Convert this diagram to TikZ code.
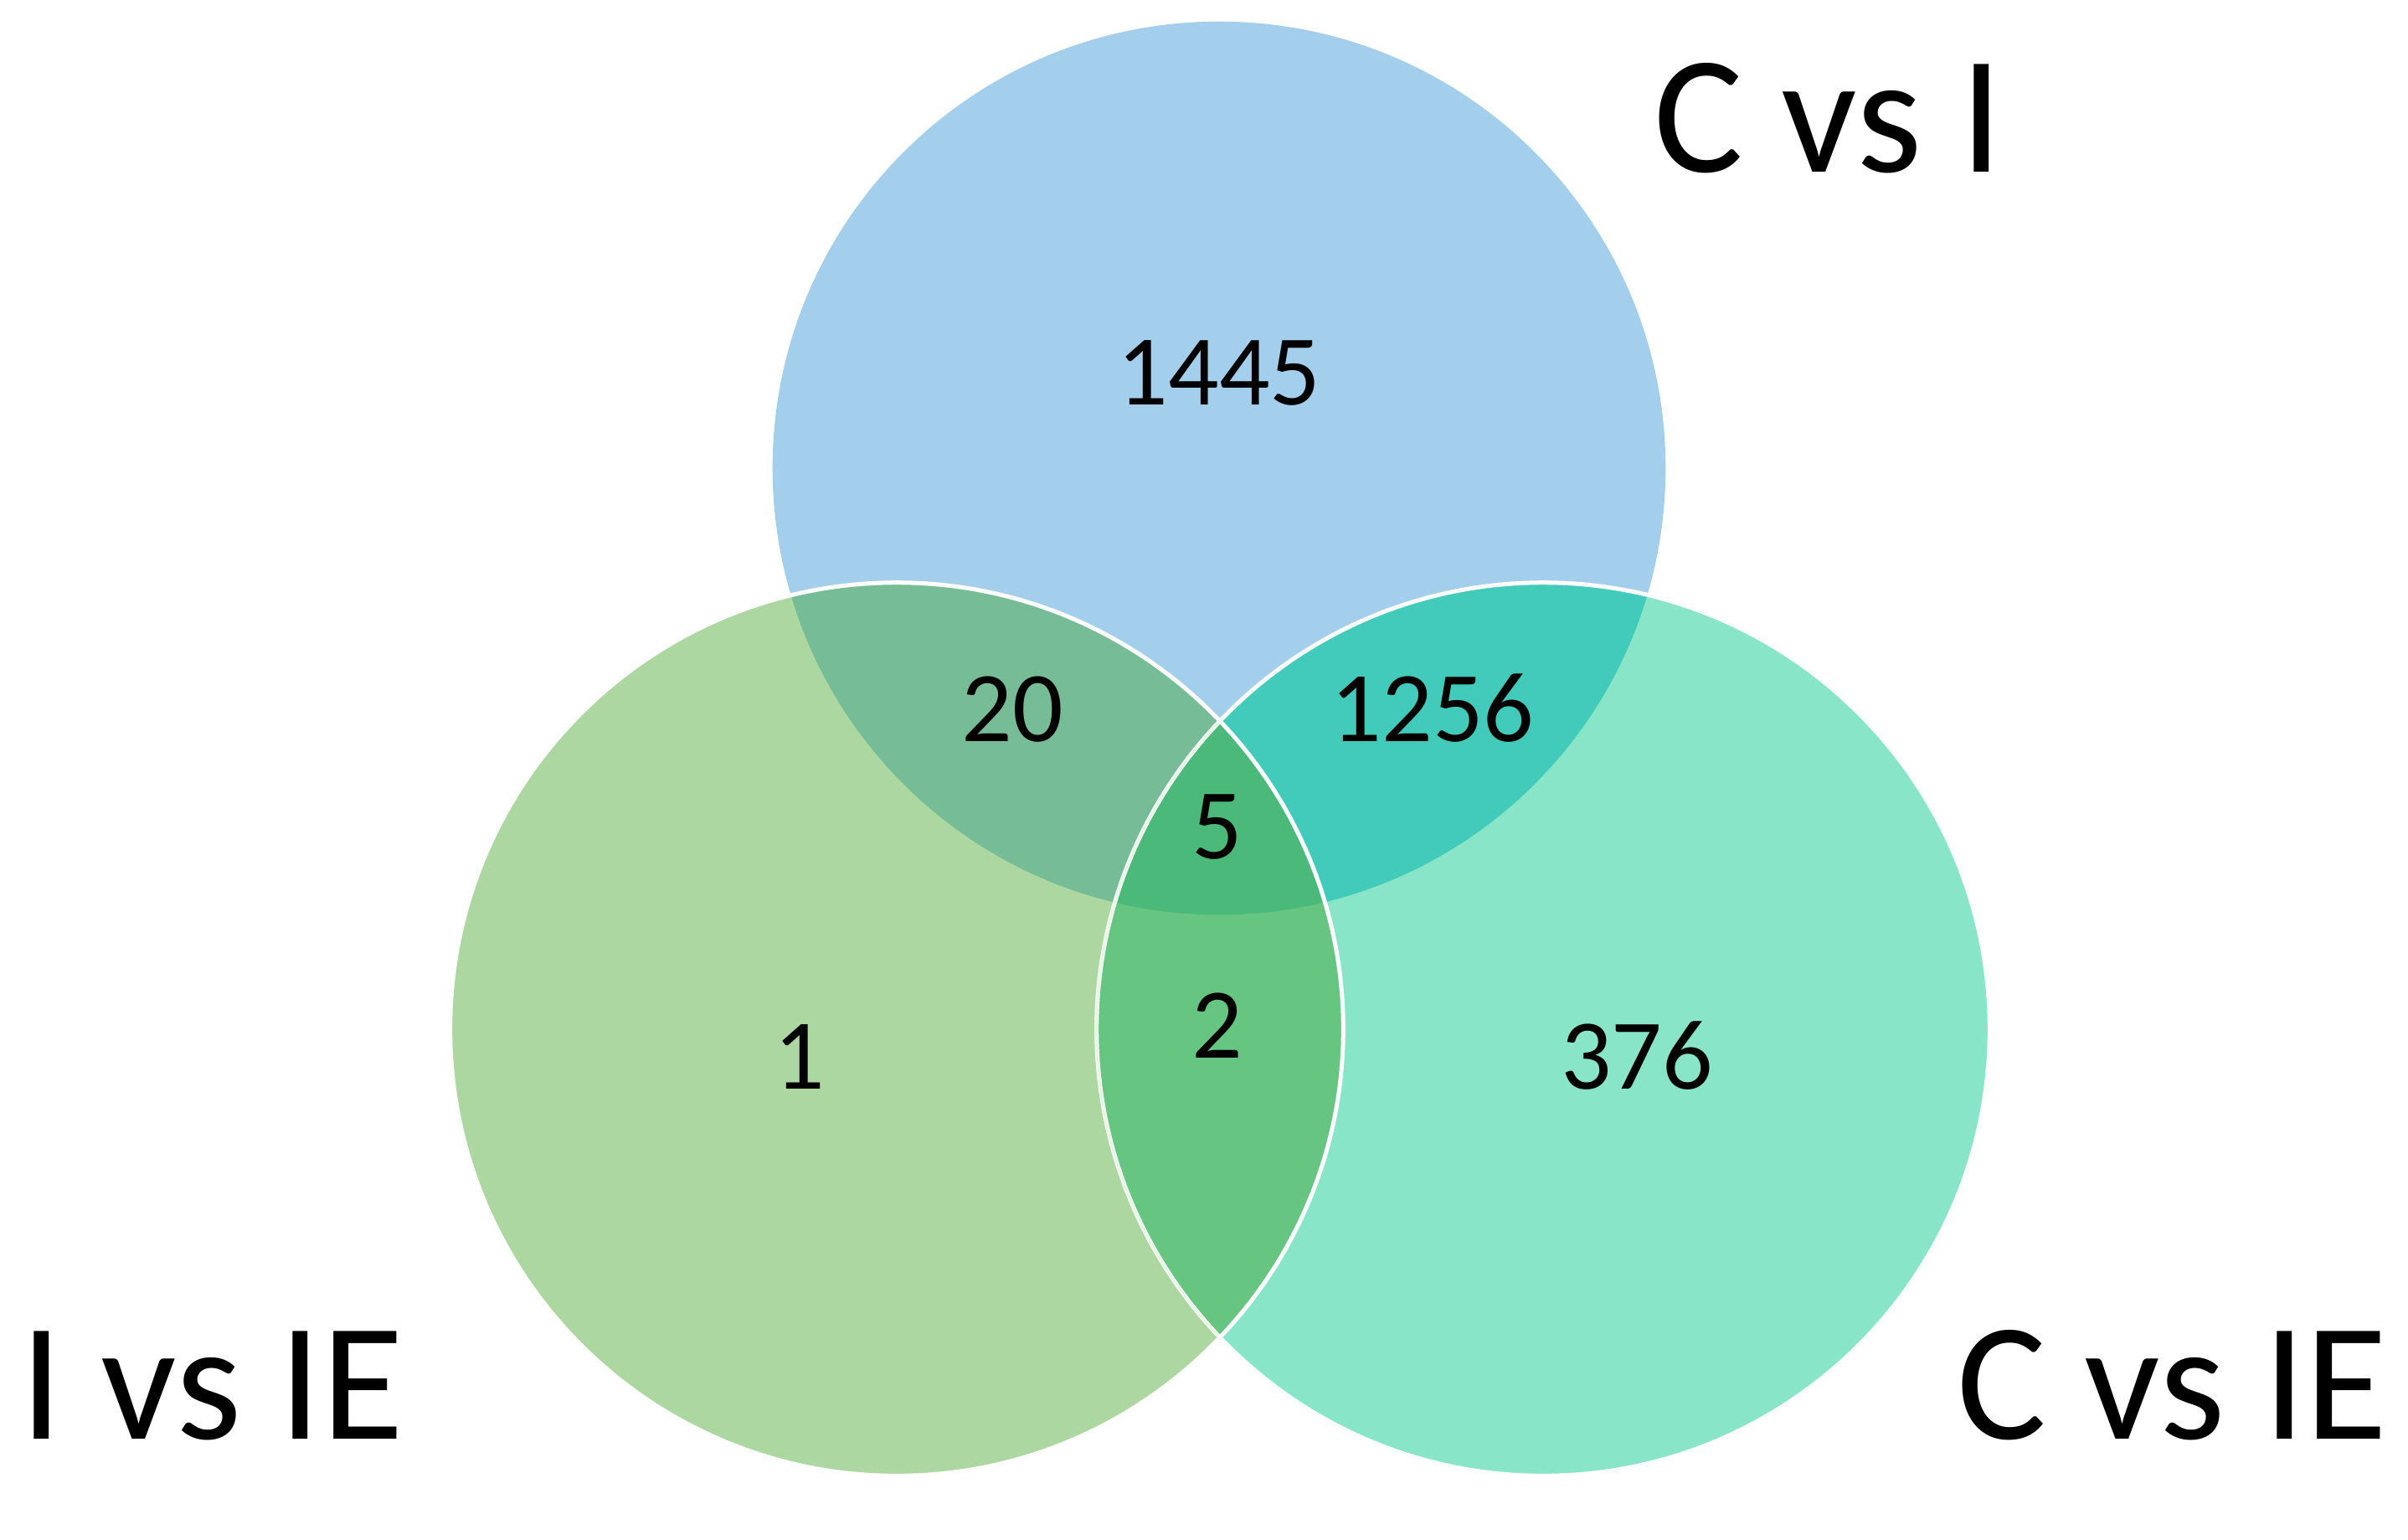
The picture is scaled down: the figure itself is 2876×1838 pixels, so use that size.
\documentclass[tikz,border=0pt]{standalone}
\usepackage{fontspec}
\setmainfont{Carlito}
\definecolor{cT}{HTML}{A3CEEC}
\definecolor{cL}{HTML}{ADD7A1}
\definecolor{cR}{HTML}{88E5C7}
\definecolor{cTL}{HTML}{76BD97}
\definecolor{cTR}{HTML}{42CBBA}
\definecolor{cLR}{HTML}{66C580}
\definecolor{cTLR}{HTML}{4BB97A}
\tikzset{
  numlabel/.style={anchor=base, inner sep=0pt, font=\fontsize{34}{40}\selectfont},
  setlabel/.style={anchor=base west, inner sep=0pt, font=\fontsize{57}{68}\selectfont},
  rim/.style={draw=white, line width=0.05cm},
}
\begin{document}
\begin{tikzpicture}[x=0.01cm,y=-0.01cm]
\useasboundingbox (0,0) rectangle (2876,1838);
\coordinate (T) at (1456,559);
\coordinate (L) at (1071,1229);
\coordinate (R) at (1843,1229);
\def\rad{5.33cm}
% single sets
\fill[cT] (T) circle[radius=\rad];
\fill[cR] (R) circle[radius=\rad];
\fill[cL] (L) circle[radius=\rad];
% pairwise overlaps
\begin{scope}
  \clip (T) circle[radius=\rad];
  \fill[cTL] (L) circle[radius=\rad];
  \fill[cTR] (R) circle[radius=\rad];
\end{scope}
\begin{scope}
  \clip (L) circle[radius=\rad];
  \fill[cLR] (R) circle[radius=\rad];
\end{scope}
% triple overlap
\begin{scope}
  \clip (T) circle[radius=\rad];
  \clip (L) circle[radius=\rad];
  \fill[cTLR] (R) circle[radius=\rad];
\end{scope}
% outlines
\draw[rim] (R) circle[radius=\rad];
\begin{scope}
  \clip (L) circle[radius=\rad];
  \draw[cL!60!white, line width=0.03cm, opacity=0.45] (R) circle[radius=\rad];
\end{scope}
\draw[rim] (L) circle[radius=\rad];
% numbers
\node[numlabel] (n1445) at (1456,483) {1445};
\node[numlabel] (n20) at (1209,885) {20};
\node[numlabel] (n1256) at (1711,885) {1256};
\node[numlabel] (n5) at (1454,1025) {5};
\node[numlabel] (n2) at (1454,1263) {2};
\node[numlabel] (n1) at (955,1300) {1};
\node[numlabel] (n376) at (1955,1300) {376};
% set labels
\node[setlabel] (lCI) at (1975,205) {C vs I};
\node[setlabel] (lIIE) at (24,1718) {I vs IE};
\node[setlabel] (lCIE) at (2337,1718) {C vs IE};
\end{tikzpicture}
\end{document}
